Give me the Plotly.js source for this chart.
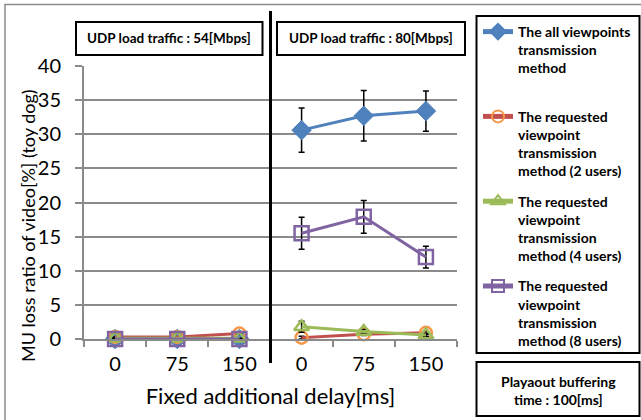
<!DOCTYPE html>
<html>
<head>
<meta charset="utf-8">
<script src="https://cdn.plot.ly/plotly-3.0.1.min.js"></script>
<style>html,body{margin:0;padding:0;background:#fff;}#chart{width:641px;height:420px;}</style>
</head>
<body>
<div id="chart"></div>
<script>
// Category tick labels (fixed additional delay, ms) for each UDP load group
const delayLabels = ['0', '75', '150'];
const loadGroups = ['54', '80'];

// Series values: [54 Mbps group], [80 Mbps group]
const allView54 = [0, 0, 0];
const allView80 = [30.6, 32.7, 33.4];
const allViewErr54 = [0, 0, 0];
const allViewErr80 = [3.25, 3.7, 2.95];

const req2_54 = [0.3, 0.3, 0.8];
const req2_80 = [0.2, 0.7, 0.9];
const req2Err54 = [0, 0, 0];
const req2Err80 = [0.2, 0.2, 0.2];

const req4_54 = [0.1, 0.1, 0.1];
const req4_80 = [1.8, 1.1, 0.6];
const req4Err54 = [0, 0, 0];
const req4Err80 = [0.8, 0.3, 0.2];

const req8_54 = [0, 0, 0];
const req8_80 = [15.5, 17.9, 12.0];
const req8Err54 = [0, 0, 0];
const req8Err80 = [2.35, 2.4, 1.6];

const seriesNames = [
  'The all viewpoints<br>transmission<br>method<br>\u00a0',
  'The requested<br>viewpoint<br>transmission<br>method (2 users)',
  'The requested<br>viewpoint<br>transmission<br>method (4 users)',
  'The requested<br>viewpoint<br>transmission<br>method (8 users)'
];

const FONT = 'Lato, "Liberation Sans", Arial, sans-serif';
const GRID = '#8a8a8a';

// positions: group 54 -> 0,1,2 ; group 80 -> 3,4,5 ; null breaks the line
const xs = [0, 1, 2, null, 3, 4, 5];
const joinY = (a, b) => a.concat([null], b);
const tickText = delayLabels.concat(delayLabels);

function mk(name, a, b, ea, eb, lineColor, marker, group) {
  return {
    type: 'scatter', mode: 'lines+markers', name: name,
    legendgroup: group,
    x: xs, y: joinY(a, b),
    line: {color: lineColor, width: 3},
    marker: marker,
    error_y: {type: 'data', array: joinY(ea, eb), visible: true, color: '#000', thickness: 1.5, width: 3},
    cliponaxis: false
  };
}

const traces = [
  mk(seriesNames[0], allView54, allView80, allViewErr54, allViewErr80, '#4F81BD',
     {symbol: 'diamond', size: 15, color: '#4F81BD', line: {color: '#4F81BD', width: 1}}, 'g1'),
  mk(seriesNames[1], req2_54, req2_80, req2Err54, req2Err80, '#C0504D',
     {symbol: 'circle-open', size: 12, color: '#F79646', line: {width: 2.5}}, 'g2'),
  mk(seriesNames[2], req4_54, req4_80, req4Err54, req4Err80, '#9BBB59',
     {symbol: 'triangle-up-open', size: 13, color: '#9BBB59', line: {width: 2.5}}, 'g3'),
  mk(seriesNames[3], req8_54, req8_80, req8Err54, req8Err80, '#8064A2',
     {symbol: 'square-open', size: 14, color: '#8064A2', line: {width: 2.5}}, 'g4')
];

// plot area: x 84..457, y 66..339
const L = 84, R = 457, T = 66, B = 339;
const px = v => (v - L) / (R - L);
const py = v => (B - v) / (B - T);

const layout = {
  width: 641, height: 420,
  margin: {l: L, r: 641 - R, t: T, b: 420 - B, autoexpand: false},
  paper_bgcolor: '#fff', plot_bgcolor: '#fff',
  font: {family: FONT, color: '#000'},
  showlegend: true,
  legend: {
    x: px(478), y: py(16), xanchor: 'left', yanchor: 'top',
    bgcolor: 'rgba(0,0,0,0)', borderwidth: 0,
    font: {family: FONT, size: 14, weight: 'bold', color: '#000'},
    valign: 'top', tracegroupgap: 9, itemwidth: 30, itemsizing: 'constant',
    traceorder: 'grouped', maxheight: 400
  },
  xaxis: {
    range: [-0.5, 5.5], tickmode: 'array', tickvals: [0, 1, 2, 3, 4, 5], ticktext: tickText,
    ticks: '', showgrid: false, zeroline: false,
    showline: true, linecolor: GRID, linewidth: 2,
    tickfont: {family: FONT, size: 20}, ticklabelstandoff: 6,
    minor: {tickmode: 'array', tickvals: [-0.5, 0.5, 1.5, 2.5, 3.5, 4.5, 5.5], ticks: 'outside', ticklen: 6, tickcolor: GRID, tickwidth: 2, showgrid: false},
    title: {text: 'Fixed additional delay[ms]', font: {family: FONT, size: 22}, standoff: 15},
    fixedrange: true
  },
  yaxis: {
    range: [0, 40], dtick: 5, tick0: 0,
    showgrid: true, gridcolor: GRID, gridwidth: 2, zeroline: false,
    showline: true, linecolor: GRID, linewidth: 2,
    ticks: 'outside', ticklen: 7, tickcolor: GRID, tickwidth: 2,
    tickfont: {family: FONT, size: 20}, ticklabelstandoff: 10,
    fixedrange: true
  },
  shapes: [
    // outer chart border
    {type: 'rect', xref: 'paper', yref: 'paper', x0: px(5), x1: px(660), y0: py(440), y1: py(4.5),
     line: {color: '#8c8c8c', width: 1.5}, fillcolor: 'rgba(0,0,0,0)', layer: 'below'},
    // divider between load groups
    {type: 'line', xref: 'x', yref: 'paper', x0: 2.5, x1: 2.5, y0: py(363), y1: py(11),
     line: {color: '#000', width: 3}},
    // group label boxes
    {type: 'rect', xref: 'paper', yref: 'paper', x0: px(76), x1: px(262.5), y0: py(55), y1: py(22),
     line: {color: '#000', width: 2}},
    {type: 'rect', xref: 'paper', yref: 'paper', x0: px(277), x1: px(465), y0: py(55), y1: py(22),
     line: {color: '#000', width: 2}},
    // legend frame
    {type: 'rect', xref: 'paper', yref: 'paper', x0: px(476.5), x1: px(639.5), y0: py(353), y1: py(16),
     line: {color: '#000', width: 2}},
    // playout box
    {type: 'rect', xref: 'paper', yref: 'paper', x0: px(476.5), x1: px(639.5), y0: py(416), y1: py(362),
     line: {color: '#000', width: 2}}
  ],
  annotations: [
    {text: 'MU loss ratio of video[%] (toy dog)', xref: 'paper', yref: 'paper', x: px(28), y: py(226),
     textangle: -90, showarrow: false, font: {family: FONT, size: 18}, xanchor: 'center', yanchor: 'middle'},
    {text: 'UDP load traffic : ' + loadGroups[0] + '[Mbps]', xref: 'paper', yref: 'paper', x: px(169), y: py(38),
     showarrow: false, font: {family: FONT, size: 13.5, weight: 'bold'}, xanchor: 'center', yanchor: 'middle'},
    {text: 'UDP load traffic : ' + loadGroups[1] + '[Mbps]', xref: 'paper', yref: 'paper', x: px(371), y: py(38),
     showarrow: false, font: {family: FONT, size: 13.5, weight: 'bold'}, xanchor: 'center', yanchor: 'middle'},
    {text: 'Playaout buffering<br>time : 100[ms]', xref: 'paper', yref: 'paper', x: px(558), y: py(390),
     showarrow: false, font: {family: FONT, size: 14, weight: 'bold'}, xanchor: 'center', yanchor: 'middle'}
  ]
};

Plotly.newPlot('chart', traces, layout, {displayModeBar: false, staticPlot: true});
</script>
</body>
</html>
